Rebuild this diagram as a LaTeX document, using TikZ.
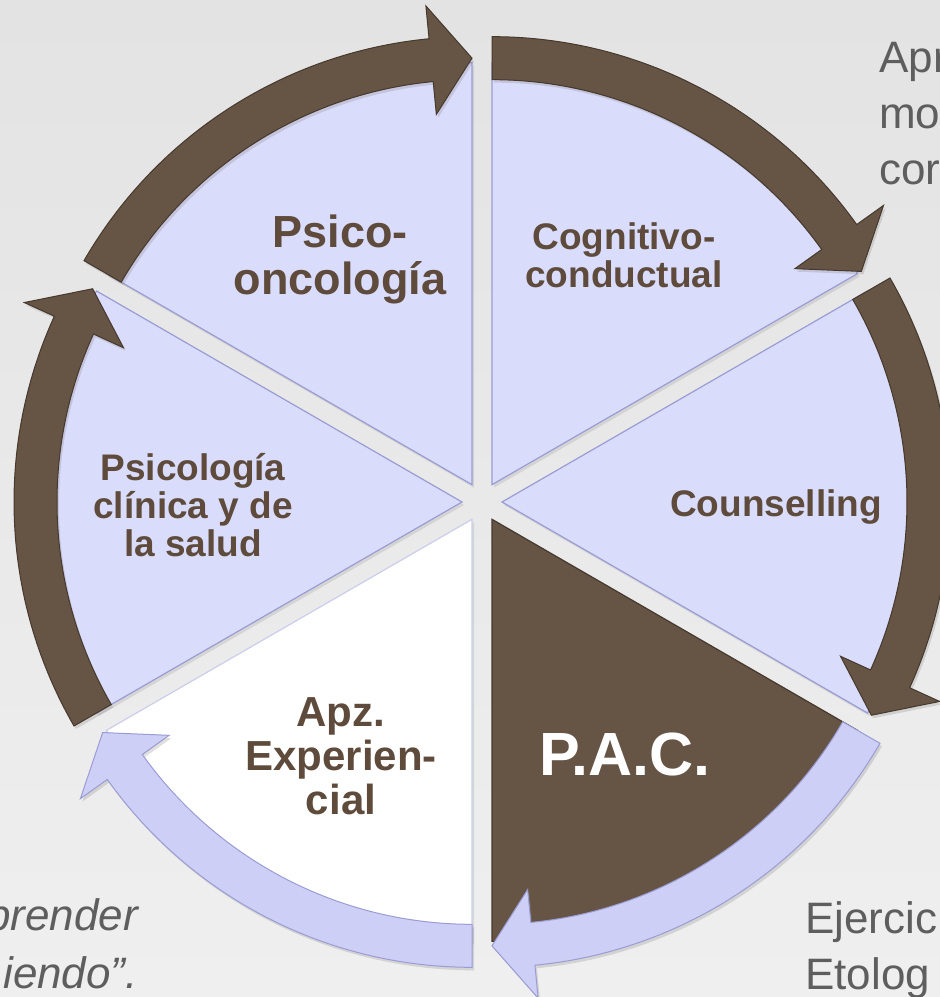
\documentclass[tikz,border=0pt]{standalone}
\usepackage{fontspec}
\setmainfont{Liberation Sans}
\usetikzlibrary{positioning,shadows}

\definecolor{lav}{HTML}{DADCFC}
\definecolor{lavedge}{HTML}{9A9CD4}
\definecolor{lavband}{HTML}{CDCFF7}
\definecolor{brn}{HTML}{665444}
\definecolor{brnedge}{HTML}{46392E}
\definecolor{txtbrn}{HTML}{5E4B3C}
\definecolor{notegray}{HTML}{5E5E5E}
\definecolor{bgtop}{HTML}{E3E3E3}
\definecolor{bgbot}{HTML}{EFEFEF}

\begin{document}
\begin{tikzpicture}[
    x=1pt,y=1pt,
    seg/.style={shift={(c)},shift={(#1:20)}},
    wedge/.style={fill=lav,draw=lavedge,line width=1.2pt,
        drop shadow={opacity=.2,shadow xshift=2pt,shadow yshift=-3pt}},
    wedgedark/.style={wedge,fill=brn,draw=brnedge},
    wedgewhite/.style={wedge,fill=white,draw=lavedge!50},
    bandbrown/.style={fill=brn,draw=brnedge,line width=1pt,
        drop shadow={opacity=.25,shadow xshift=2pt,shadow yshift=-3pt}},
    bandlav/.style={bandbrown,fill=lavband,draw=lavedge},
    segtext/.style={font=\bfseries\fontsize{37}{38}\selectfont,text=txtbrn,align=center,inner sep=0pt},
    segtextbig/.style={segtext,font=\bfseries\fontsize{45}{47}\selectfont},
    pactext/.style={segtext,text=white,font=\bfseries\fontsize{61}{62}\selectfont},
    notetext/.style={font=\fontsize{44}{56}\selectfont,text=notegray,inner sep=0pt}
]

% background
\fill[top color=bgtop,bottom color=bgbot] (0,0) rectangle (940,997);
\useasboundingbox (0,0) rectangle (940,997);

\coordinate (c) at (482,495);

% wedges
\begin{scope}[seg=120]
  \path[wedge] (0,0) -- (90:422) arc[start angle=90,end angle=150,radius=422] -- cycle;
\end{scope}
\begin{scope}[seg=60]
  \path[wedge] (0,0) -- (30:422) arc[start angle=30,end angle=90,radius=422] -- cycle;
\end{scope}
\begin{scope}[seg=0]
  \path[wedge] (0,0) -- (-30:422) arc[start angle=-30,end angle=30,radius=422] -- cycle;
\end{scope}
\begin{scope}[seg=-60]
  \path[wedgedark] (0,0) -- (-90:422) arc[start angle=-90,end angle=-30,radius=422] -- cycle;
\end{scope}
\begin{scope}[seg=-120]
  \path[wedgewhite] (0,0) -- (210:422) arc[start angle=210,end angle=270,radius=422] -- cycle;
\end{scope}
\begin{scope}[seg=180]
  \path[wedge] (0,0) -- (150:422) arc[start angle=150,end angle=210,radius=422] -- cycle;
\end{scope}

% curved arrows round the ring
\begin{scope}[seg=120]
  \path[bandbrown] (150:448) arc[start angle=150,end angle=95.5,radius=448] -- (95.5:481)
    -- (90:426.5) -- (95.5:372) -- (95.5:405) arc[start angle=95.5,end angle=150,radius=405] -- cycle;
\end{scope}
\begin{scope}[seg=60]
  \path[bandbrown] (90:448) arc[start angle=90,end angle=35.5,radius=448] -- (35.5:481)
    -- (30:426.5) -- (35.5:372) -- (35.5:405) arc[start angle=35.5,end angle=90,radius=405] -- cycle;
\end{scope}
\begin{scope}[seg=0]
  \path[bandbrown] (30:448) arc[start angle=30,end angle=-24.5,radius=448] -- (-24.5:481)
    -- (-30:426.5) -- (-24.5:372) -- (-24.5:405) arc[start angle=-24.5,end angle=30,radius=405] -- cycle;
\end{scope}
\begin{scope}[seg=-60]
  \path[bandlav] (-30:448) arc[start angle=-30,end angle=-84.5,radius=448] -- (-84.5:481)
    -- (-90:426.5) -- (-84.5:372) -- (-84.5:405) arc[start angle=-84.5,end angle=-30,radius=405] -- cycle;
\end{scope}
\begin{scope}[seg=-120]
  \path[bandlav] (270:448) arc[start angle=270,end angle=215.5,radius=448] -- (215.5:481)
    -- (210:426.5) -- (215.5:372) -- (215.5:405) arc[start angle=215.5,end angle=270,radius=405] -- cycle;
\end{scope}
\begin{scope}[seg=180]
  \path[bandbrown] (210:448) arc[start angle=210,end angle=155.5,radius=448] -- (155.5:481)
    -- (150:426.5) -- (155.5:372) -- (155.5:405) arc[start angle=155.5,end angle=210,radius=405] -- cycle;
\end{scope}

% segment labels
\node[segtextbig] (psico) at (340,738) {Psico-\\oncología};
\node[segtext]    (cogn)  at (624,742) {Cognitivo-\\conductual};
\node[segtext]    (couns) at (776,490) {Counselling};
\node[segtext]    (clin)  at (193,492) {Psicología\\clínica y de\\la salud};
\node[segtext,font=\bfseries\fontsize{42}{44}\selectfont] (apz) at (341,241) {Apz.\\Experien-\\cial};
\node[pactext]    (pac)   at (625,242) {P.A.C.};

% side notes (cut by the page edge); base = last line
\node[notetext,align=left,anchor=base west] (apr) at (879,812) {Apr\\mo\\cor};
\node[notetext,align=left,anchor=base west] (ejer) at (805,7) {Ejercic\\Etolog};
\node[notetext,font=\itshape\fontsize{44}{58}\selectfont,align=right,anchor=base east] (apren) at (138,9) {prender\\iendo”.};

\end{tikzpicture}
\end{document}
